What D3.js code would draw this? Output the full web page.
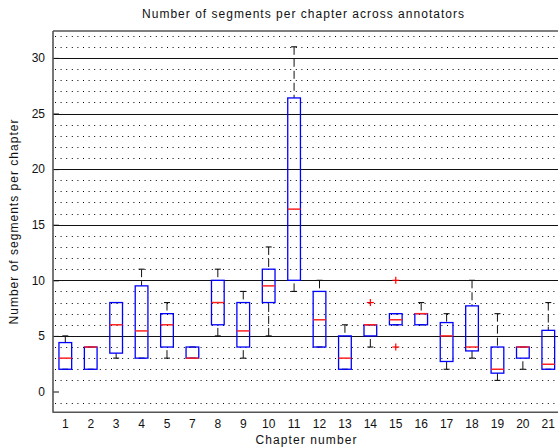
<!DOCTYPE html>
<html>
<head>
<meta charset="utf-8">
<script src="https://cdn.jsdelivr.net/npm/d3@7"></script>
<style>
  html, body { margin: 0; padding: 0; background: #fff; }
  svg { display: block; }
  text { font-family: "Liberation Sans", Arial, sans-serif; fill: #111; }
</style>
</head>
<body>
<svg id="chart" width="558" height="448"></svg>
<script>
// ---- data ----
const chapters = ["1","2","3","4","5","7","8","9","10","11","12","13","14","15","16","17","18","19","20","21"];
const q1          = [2,   2, 3.45, 3,    4, 3, 6,  4,    8,   10,   4,    2, 5, 6,    6, 2.7, 3.65, 1.65, 3, 2];
const medians     = [3,   4, 6,    5.45, 6, 3, 8,  5.45, 9.5, 16.4, 6.45, 3, 6, 6.45, 7, 5,   4,    2,    4, 2.45];
const q3          = [4.4, 4, 8,    9.5,  7, 4, 10, 8,    11,  26.4, 9,    5, 6, 7,    7, 6.2, 7.7,  4,    4, 5.5];
const whiskerLow  = [2,   2, 3,    3,    3, 3, 5,  3,    5,   9,    4,    2, 4, 6,    6, 2,   3,    1,    2, 2];
const whiskerHigh = [5,   4, 8,    11,   8, 4, 11, 9,    13,  31,   10,   6, 6, 7,    8, 7,   10,   7,    4, 8];
const outliers    = [[],[],[],[],[],[],[],[],[],[],[],[],[8],[10,4],[],[],[],[],[],[]];
const yTicks = [0, 5, 10, 15, 20, 25, 30];
const minorTicks = d3.range(-1, 33).filter(v => v % 5 !== 0);
const titleText = "Number of segments per chapter across annotators";
const xLabelText = "Chapter number";
const yLabelText = "Number of segments per chapter";

// ---- layout ----
const W = 558, H = 448;
const plot = { left: 53, top: 31, right: 561, bottom: 412.3 };
const svg = d3.select("#chart");
svg.append("rect").attr("width", W).attr("height", H).attr("fill", "#fff");

const y = d3.scaleLinear().domain([-1.87, 32.42]).range([plot.bottom, plot.top]);
const x = d3.scaleBand().domain(chapters).range([52.6, 561]).padding(0);
const bw = x.bandwidth();
const cx = c => x(c) + bw / 2;
const crisp = v => Math.round(v) + 0.5;

// minor dotted grid
svg.append("g").selectAll("line").data(minorTicks).join("line")
  .attr("x1", plot.left + 2).attr("x2", plot.right)
  .attr("y1", d => crisp(y(d))).attr("y2", d => crisp(y(d)))
  .attr("stroke", "#000").attr("stroke-width", 1)
  .attr("stroke-dasharray", "1,4.6");

// major solid grid (excluding 0)
svg.append("g").selectAll("line").data(yTicks.filter(v => v !== 0)).join("line")
  .attr("x1", plot.left).attr("x2", plot.right)
  .attr("y1", d => crisp(y(d))).attr("y2", d => crisp(y(d)))
  .attr("stroke", "#111").attr("stroke-width", 1.1);

// axes
const yAxis = d3.axisLeft(y).tickValues(yTicks).tickSizeInner(-6).tickSizeOuter(0).tickPadding(8);
const gy = svg.append("g").attr("transform", `translate(${plot.left},0)`).call(yAxis);
gy.select(".domain").remove();
gy.selectAll(".tick line").attr("stroke", "#111");
gy.selectAll(".tick text").attr("font-size", 12).attr("font-family", "Liberation Sans, Arial, sans-serif").attr("fill", "#111");

const xAxis = d3.axisBottom(x).tickSize(0).tickPadding(7.5);
const gx = svg.append("g").attr("transform", `translate(0,${plot.bottom})`).call(xAxis);
gx.select(".domain").remove();
gx.selectAll(".tick text").attr("font-size", 12).attr("font-family", "Liberation Sans, Arial, sans-serif").attr("fill", "#111");

// frame
svg.append("line").attr("x1", plot.left).attr("x2", plot.left).attr("y1", plot.top).attr("y2", plot.bottom + 0.5)
  .attr("stroke", "#555").attr("stroke-width", 1.6);
svg.append("line").attr("x1", plot.left).attr("x2", W).attr("y1", plot.bottom).attr("y2", plot.bottom)
  .attr("stroke", "#555").attr("stroke-width", 1.6);
svg.append("line").attr("x1", plot.left).attr("x2", W).attr("y1", plot.top).attr("y2", plot.top)
  .attr("stroke", "#555").attr("stroke-width", 1.6);

// boxes
const data = chapters.map((c, i) => ({
  c, q1: q1[i], med: medians[i], q3: q3[i], lo: whiskerLow[i], hi: whiskerHigh[i], out: outliers[i]
}));
const g = svg.append("g");
const boxW = bw * 0.5, capW = 6;

data.forEach(d => {
  const xc = cx(d.c);
  const gg = g.append("g");
  // whiskers
  if (d.hi > d.q3) {
    gg.append("line").attr("x1", xc).attr("x2", xc).attr("y1", y(d.hi)).attr("y2", y(d.q3))
      .attr("stroke", "#111").attr("stroke-width", 1).attr("stroke-dasharray", "8,4");
  }
  if (d.lo < d.q1) {
    gg.append("line").attr("x1", xc).attr("x2", xc).attr("y1", y(d.lo)).attr("y2", y(d.q1))
      .attr("stroke", "#111").attr("stroke-width", 1).attr("stroke-dasharray", "8,4");
  }
  [d.hi, d.lo].forEach(v => {
    gg.append("line").attr("x1", xc - capW / 2).attr("x2", xc + capW / 2)
      .attr("y1", y(v)).attr("y2", y(v)).attr("stroke", "#111").attr("stroke-width", 1.1);
  });
  // box
  gg.append("rect").attr("x", xc - boxW / 2).attr("width", boxW)
    .attr("y", y(d.q3)).attr("height", Math.max(0, y(d.q1) - y(d.q3)))
    .attr("fill", "none").attr("stroke", "#0000ff").attr("stroke-width", 1.3);
  // median
  gg.append("line").attr("x1", xc - boxW / 2).attr("x2", xc + boxW / 2)
    .attr("y1", y(d.med)).attr("y2", y(d.med)).attr("stroke", "#ff2020").attr("stroke-width", 1.5);
  // outliers
  d.out.forEach(v => {
    const oy = y(v);
    gg.append("line").attr("x1", xc - 3.5).attr("x2", xc + 3.5).attr("y1", oy).attr("y2", oy)
      .attr("stroke", "#ff0000").attr("stroke-width", 1.2);
    gg.append("line").attr("x1", xc).attr("x2", xc).attr("y1", oy - 3.5).attr("y2", oy + 3.5)
      .attr("stroke", "#ff0000").attr("stroke-width", 1.2);
  });
});

// texts
svg.append("text").attr("x", 303).attr("y", 17.5).attr("text-anchor", "middle")
  .attr("font-size", 12).attr("textLength", 322).attr("lengthAdjust", "spacing").text(titleText);
svg.append("text").attr("x", 306).attr("y", 444.3).attr("text-anchor", "middle")
  .attr("font-size", 12).attr("textLength", 101).attr("lengthAdjust", "spacing").text(xLabelText);
svg.append("text").attr("transform", "translate(18,222) rotate(-90)").attr("text-anchor", "middle")
  .attr("font-size", 12).attr("textLength", 205).attr("lengthAdjust", "spacing").text(yLabelText);
</script>
</body>
</html>
